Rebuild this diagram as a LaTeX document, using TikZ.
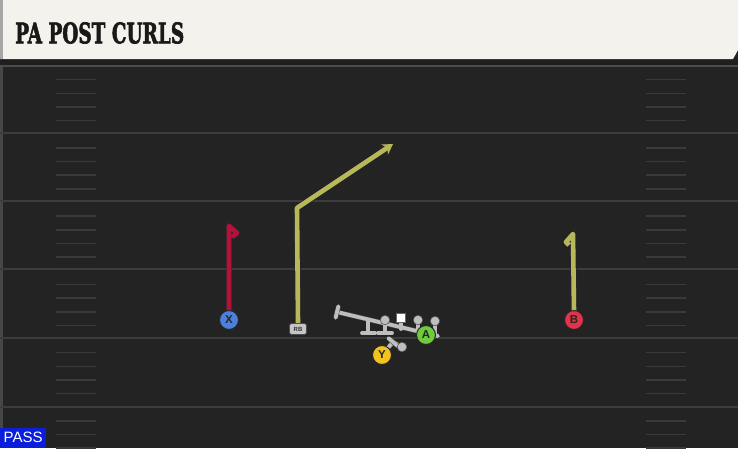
\documentclass[tikz,border=0pt]{standalone}
\usepackage{fontspec}
\setmainfont{Liberation Sans}
\newfontfamily\titlefont{DejaVu Serif}[BoldFeatures={FakeBold=2.5}]
\usetikzlibrary{arrows.meta}
\definecolor{field}{HTML}{232323}
\definecolor{yardline}{HTML}{3C3C3C}
\definecolor{hashc}{HTML}{3A3A3A}
\definecolor{header}{HTML}{F4F2EC}
\definecolor{olive}{HTML}{B8B85A}
\definecolor{crimson}{HTML}{B3123C}
\definecolor{xblue}{HTML}{4D80DD}
\definecolor{bred}{HTML}{E2334A}
\definecolor{yyellow}{HTML}{F2C21E}
\definecolor{agreen}{HTML}{6DCB3C}
\definecolor{lgray}{HTML}{BEBEBE}
\definecolor{passblue}{HTML}{0A1EDC}
\tikzset{
  player/.style={circle, draw=black!85, line width=1pt, minimum size=19pt, inner sep=0pt,
    font=\bfseries\fontsize{11.5}{11.5}\selectfont, text=black!85},
  route/.style={line width=4.6pt, line join=round, preaction={draw=black!85, line width=6.4pt}},
  blk/.style={draw=lgray, line width=3.8pt, line cap=round, preaction={draw=black!70, line width=4.8pt}},
  hashmark/.style={draw=hashc, line width=1.6pt},
  yard/.style={draw=yardline, line width=2pt},
  dot/.style={circle, fill=lgray, draw=black!70, line width=0.5pt, minimum size=9.5pt, inner sep=0pt},
  rbtag/.style={fill=lgray!90, draw=black!70, line width=0.6pt, rounded corners=2.5pt, minimum width=17pt,
    minimum height=11pt, inner sep=0pt, font=\bfseries\fontsize{6}{6}\selectfont, text=black!80}
}
\begin{document}
\begin{tikzpicture}[x=1pt,y=-1pt]
\useasboundingbox (0,0) rectangle (738,448);
\fill[field] (0,0) rectangle (738,448);
\fill[black!72] (0,59) rectangle (2.5,448);
% yard lines
\foreach \yy in {133,201,269,338,407} {\draw[yard] (0,\yy) -- (738,\yy);}
\draw[draw=black!70, line width=1.5pt] (0,66) -- (738,66);
% hash marks
\foreach \k in {1,...,28} {
  \pgfmathtruncatemacro{\m}{mod(\k,5)}
  \ifnum\m=0\else
    \pgfmathsetmacro{\yy}{66+13.65*\k}
    \draw[hashmark] (56,\yy) -- (96,\yy);
    \draw[hashmark] (646,\yy) -- (686,\yy);
  \fi
}
% header
\fill[black!88] (0,58) rectangle (738,65);
\fill[header] (0,0) -- (738,0) -- (738,50) -- (733,59) -- (0,59) -- cycle;
\fill[black!35] (0,0) rectangle (3,59);
\node[anchor=west, inner sep=0pt, text=black!90] (title) at (15,33)
  {\resizebox{169pt}{21pt}{\titlefont\bfseries PA POST CURLS}};
% offensive line structure
\coordinate (L1) at (337,312);
\coordinate (L2) at (438,336);
\draw[blk] (L1) -- (L2);
\draw[blk] (338.4,306.2) -- (335.6,317.8);
\draw[blk] (368,321) -- (368,333);
\draw[blk] (362,333) -- (375,333);
\draw[blk] (385,320) -- (385,333);
\draw[blk] (378,333) -- (392,333);
\draw[blk] (401,318) -- (401,329);
\draw[blk] (418,320) -- (418,332);
\draw[blk] (435,321) -- (435,336);
\node[dot] (g1) at (385,320) {};
\node[dot] (g2) at (418,320) {};
\node[dot] (g3) at (435,321) {};
\node[fill=white, draw=black!60, line width=0.5pt, minimum size=9pt, inner sep=0pt] (C) at (401,318) {};
% Y block
\node[dot] (g4) at (402,347) {};
\coordinate (yb) at (393,342);
\node[player, fill=yyellow] (Y) at (382,355) {Y};
\draw[blk] (Y) -- (yb);
\draw[blk] (yb) -- (g4);
\draw[blk] (388.4,338.1) -- (397.6,345.9);
\node[dot] at (g4) {};
\node[player, fill=yyellow] at (Y) {Y};
\node[player, fill=agreen] (A) at (426,335) {A};
% X route
\coordinate (xt) at (229,226);
\coordinate (xf1) at (237,233);
\coordinate (xf2) at (232,237);
\draw[route, draw=crimson] (229,312) -- (xt) -- (xf1) -- (xf2);
\node[player, fill=xblue] (X) at (229,320) {X};
% RB route
\coordinate (rbt) at (297,208);
\coordinate (rbe) at (393,144);
\node[rbtag] (RB) at (298,329) {RB};
\draw[route, draw=olive, -{Stealth[length=10pt,width=12pt]}] (RB.north) -- (rbt) -- (rbe);
\node[rbtag] at (RB) {RB};
% B route
\coordinate (bt) at (573,234);
\coordinate (bf1) at (566,242);
\coordinate (bf2) at (569,245);
\draw[route, draw=olive] (574,312) -- (bt) -- (bf1) -- (bf2);
\node[player, fill=bred] (B) at (574,320) {B};
% PASS label
\node[fill=passblue, text=white, anchor=south west, inner sep=0pt, minimum width=46pt, minimum height=20pt,
  font=\fontsize{15}{15}\selectfont] (pass) at (0,448) {PASS};
\end{tikzpicture}
\end{document}
